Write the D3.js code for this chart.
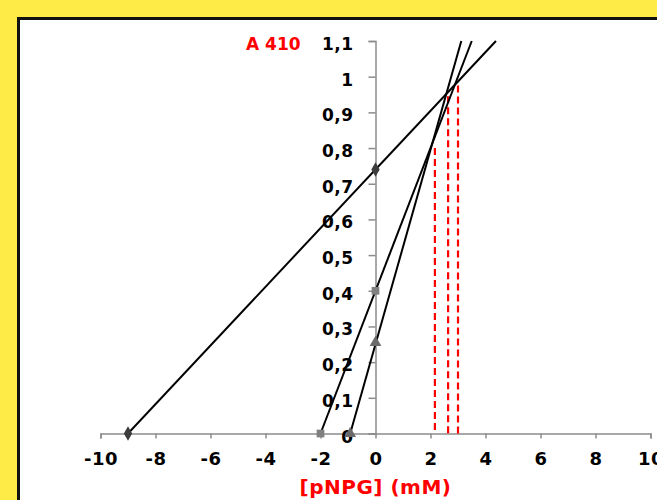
<!DOCTYPE html>
<html>
<head>
<meta charset="utf-8">
<script src="https://cdn.jsdelivr.net/npm/d3@7"></script>
<style>
  body { margin: 0; }
  text { font-family: "DejaVu Sans", Verdana, sans-serif; font-weight: bold; }
</style>
</head>
<body>
<div id="my_dataviz"></div>
<script>
// data
var seriesNames = ["s1", "s2", "s3"]
var xIntercepts = [-9, -2, -0.92]      // where each line meets A410 = 0
var yIntercepts = [0.74, 0.40, 0.255]  // value at [pNPG] = 0
var xAtTop = [4.38, 3.5, 3.12]         // where each line leaves the plot (A410 = 1.1)
var markerShapes = [d3.symbolDiamond, d3.symbolSquare, d3.symbolTriangle]
var markerColors = ["#3c3c3c", "#808080", "#6a6a6a"]

var dashX = [2.16, 2.64, 3.0]
var dashTop = [0.80, 0.945, 0.975]

var xTicks = [-10, -8, -6, -4, -2, 0, 2, 4, 6, 8, 10]
var yTicks = [0, 0.1, 0.2, 0.3, 0.4, 0.5, 0.6, 0.7, 0.8, 0.9, 1, 1.1]

var width = 657;
var height = 500;

var svg = d3.select("#my_dataviz")
    .append("svg")
    .attr("width", width)
    .attr("height", height)

// yellow frame and white card
svg.append("rect")
    .attr("width", width)
    .attr("height", height)
    .attr("fill", "#ffeb47")
svg.append("rect")
    .attr("x", 18.5)
    .attr("y", 18.5)
    .attr("width", 700)
    .attr("height", 600)
    .attr("fill", "#fff")
    .attr("stroke", "#111")
    .attr("stroke-width", 3)

var x = d3.scaleLinear()
    .domain([-10, 10])
    .range([100.5, 650.5])

var y = d3.scaleLinear()
    .domain([0, 1.1])
    .range([433.5, 41])

var fmt = function (d) { return String(d).replace(".", ",") }

// x axis
var gx = svg.append("g")
    .attr("transform", "translate(0," + y(0) + ")")
    .call(d3.axisBottom(x).tickValues(xTicks).tickSize(5).tickPadding(14).tickFormat(fmt))
gx.select(".domain").attr("stroke", "#8c8c8c").attr("stroke-width", 1.5)
gx.selectAll(".tick line").attr("stroke", "#8c8c8c").attr("stroke-width", 1.5)
gx.selectAll(".tick text")
    .attr("fill", "#000")
    .style("font-size", "18px")
    .style("font-family", "DejaVu Sans")
    .style("font-weight", "bold")
    .style("letter-spacing", "0.5px")

// y axis
var gy = svg.append("g")
    .attr("transform", "translate(" + x(0) + ",0)")
    .call(d3.axisLeft(y).tickValues(yTicks).tickSize(7).tickSizeOuter(7).tickPadding(15).tickFormat(fmt))
gy.select(".domain").attr("stroke", "#8c8c8c").attr("stroke-width", 1.5)
gy.selectAll(".tick line").attr("stroke", "#8c8c8c").attr("stroke-width", 1.5)
gy.selectAll(".tick text")
    .attr("fill", "#000")
    .attr("dy", "0.5em")
    .style("font-size", "17px")
    .style("font-family", "DejaVu Sans")
    .style("font-weight", "bold")
    .style("letter-spacing", "0.5px")

// red dashed verticals
svg.selectAll(".dash")
    .data(dashX)
    .enter()
    .append("line")
    .attr("x1", function (d) { return x(d) })
    .attr("x2", function (d) { return x(d) })
    .attr("y1", function (d, i) { return y(dashTop[i]) })
    .attr("y2", y(0))
    .attr("stroke", "#ff0000")
    .attr("stroke-width", 2.2)
    .attr("stroke-dasharray", "7,4")

// the three lines
svg.selectAll(".fit")
    .data(seriesNames)
    .enter()
    .append("line")
    .attr("x1", function (d, i) { return x(xIntercepts[i]) })
    .attr("y1", y(0))
    .attr("x2", function (d, i) { return x(xAtTop[i]) })
    .attr("y2", y(1.1))
    .attr("stroke", "#000")
    .attr("stroke-width", 2)

// markers
seriesNames.forEach(function (s, i) {
    var pts = [[xIntercepts[i], 0], [0, yIntercepts[i]]]
    svg.selectAll(".m" + s)
        .data(pts)
        .enter()
        .append("path")
        .attr("transform", function (d) { return "translate(" + x(d[0]) + "," + y(d[1]) + ")" })
        .attr("d", d3.symbol().type(markerShapes[i]).size(60))
        .attr("fill", markerColors[i])
})

// titles
svg.append("text")
    .attr("x", 246)
    .attr("y", 50)
    .attr("fill", "#ff0000")
    .style("font-size", "17px")
    .text("A 410")

svg.append("text")
    .attr("x", x(0))
    .attr("y", 494)
    .attr("text-anchor", "middle")
    .attr("fill", "#ff0000")
    .style("font-size", "20px")
    .style("letter-spacing", "0.5px")
    .text("[pNPG] (mM)")
</script>
</body>
</html>
